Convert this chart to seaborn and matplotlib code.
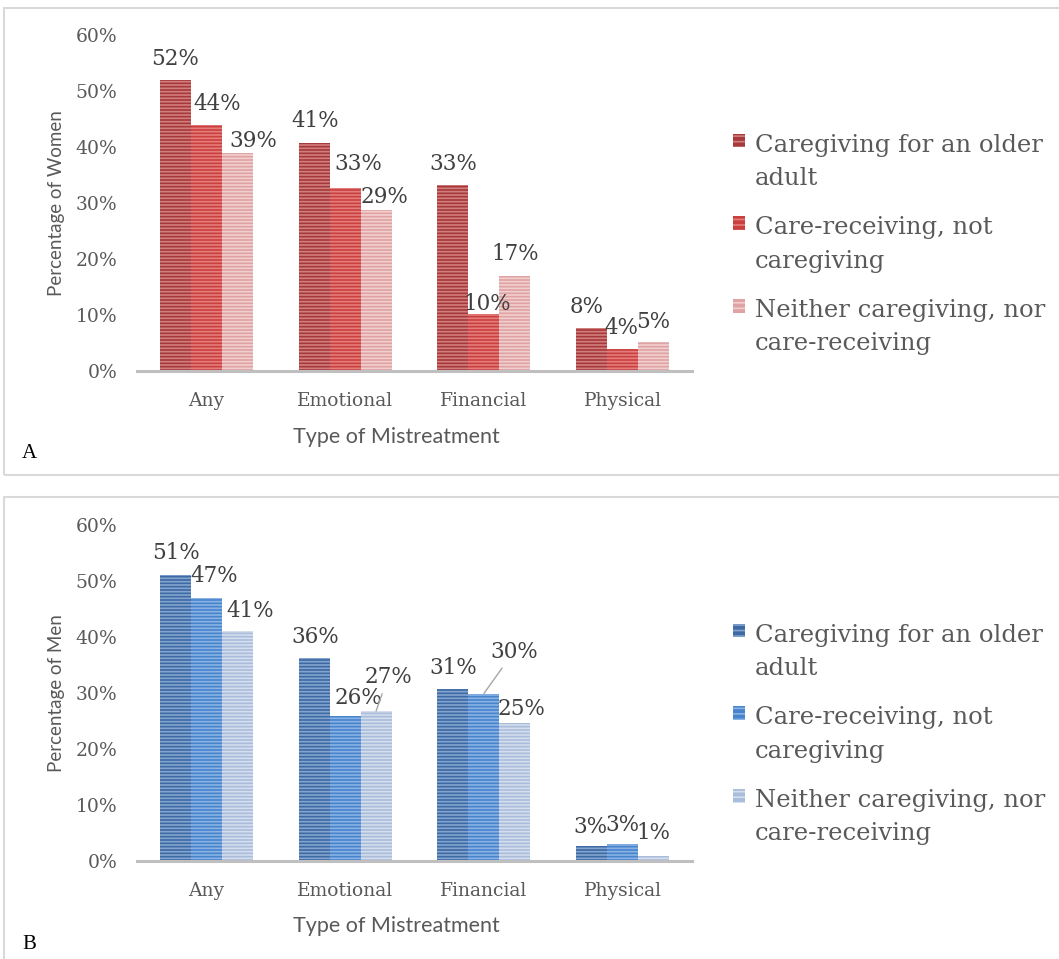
import pandas as pd
import seaborn as sns
import matplotlib.pyplot as plt
from matplotlib.patches import Patch, Rectangle

# Daten
categories = ["Any", "Emotional", "Financial", "Physical"]
groups = ["Caregiving for an older\nadult", "Care-receiving, not\ncaregiving",
          "Neither caregiving, nor\ncare-receiving"]

women_cg = [52.0, 40.7, 33.3, 7.6]
women_cr = [44.0, 32.7, 10.1, 4.0]
women_n = [39.0, 28.8, 17.0, 5.2]

men_cg = [51.1, 36.3, 30.7, 2.6]
men_cr = [47.0, 25.9, 29.9, 3.0]
men_n = [41.1, 26.8, 24.6, 0.9]

# label offsets (pixels) relative to bar top centre
women_off = [[(0, 15), (1, 16), (0, 15), (-5, 15)],
             [(11, 15), (13, 18), (3, 4), (-1, 15)],
             [(16, 6), (8, 7), (0, 16), (0, 14)]]
men_off = [[(1, 16), (1, 15), (0, 15), (-1, 13)],
           [(8, 16), (13, 12), (30, 36), (0, 13)],
           [(13, 14), (12, 28), (7, 8), (0, 17)]]
men_leader = [(1, 2), (2, 1)]  # (series, category)

women_dark = ["#a5393b", "#c9403f", "#e0a2a3"]
women_light = ["#d27e7e", "#e47d7b", "#f1cfcf"]
men_dark = ["#3d6aa3", "#4884cc", "#a9bddb"]
men_light = ["#84a4cf", "#88b3e4", "#d4deee"]

sns.set_theme(style="white")
plt.rcParams['hatch.linewidth'] = 1.2
SERIF = ['DejaVu Serif']
SANS = ['Lato', 'DejaVu Sans']
GREY = "#595959"
HATCH = "-----"


def make_df(a, b, c):
    rows = []
    for g, vals in zip(groups, [a, b, c]):
        for cat, v in zip(categories, vals):
            rows.append({"type": cat, "pct": v, "group": g})
    return pd.DataFrame(rows)


def draw_panel(ax, df, dark, light, offsets, ylabel, leaders=()):
    sns.barplot(data=df, x="type", y="pct", hue="group", palette=dark, width=0.67,
                saturation=1, ax=ax, legend=False, errorbar=None)
    for i, cont in enumerate(ax.containers):
        for j, bar in enumerate(cont):
            bar.set_edgecolor(light[i])
            bar.set_hatch(HATCH)
            bar.set_linewidth(0)
            v = bar.get_height()
            x = bar.get_x() + bar.get_width() / 2
            dx, dy = offsets[i][j]
            kw = {}
            if (i, j) in leaders:
                kw['arrowprops'] = dict(arrowstyle='-', color='#a6a6a6', lw=1,
                                        shrinkA=2, shrinkB=0)
            ax.annotate(f"{round(v)}%", xy=(x, v), xytext=(dx, dy),
                        textcoords='offset pixels', ha='center', va='baseline',
                        fontsize=15.5, family=SERIF, color="#404040", **kw)
    ax.set_ylim(0, 60)
    ax.set_yticks(range(0, 61, 10))
    ax.set_yticklabels([f"{t}%" for t in range(0, 61, 10)], family=SERIF,
                       fontsize=13.5, color=GREY)
    ax.set_xticks(range(len(categories)))
    ax.set_xticklabels(categories, family=SERIF, fontsize=13.5, color=GREY)
    ax.tick_params(axis='y', length=0, pad=14)
    ax.tick_params(axis='x', length=0, pad=15)
    ax.set_ylabel(ylabel, family=SANS, fontsize=13.5, color=GREY, labelpad=8)
    ax.set_xlabel("Type of Mistreatment", family=SANS, fontsize=15.5, color=GREY,
                  labelpad=12)
    ax.xaxis.label.set_x(0.467)
    for s in ['top', 'right', 'left']:
        ax.spines[s].set_visible(False)
    ax.spines['bottom'].set_color("#bfbfbf")
    ax.spines['bottom'].set_linewidth(2.2)
    handles = [Patch(facecolor=dark[k], edgecolor=light[k], hatch='---', linewidth=0)
               for k in range(3)]
    leg = ax.legend(handles, groups, loc='upper left', bbox_to_anchor=(1.052, 0.743),
                    frameon=False, borderpad=0, handlelength=0.5, handleheight=0.5,
                    handletextpad=0.4, labelspacing=1.08,
                    prop={'family': SERIF, 'size': 17.5})
    for t in leg.get_texts():
        t.set_color(GREY)
        t.set_linespacing(1.58)
    # put the square next to the first line like the original
    for col in leg._legend_handle_box.get_children():
        for item in col.get_children():
            item.align = 'top'


fig = plt.figure(figsize=(10.59, 9.59), dpi=100)

# panel frames
for y0, h in [(1 - 475 / 959, (475 - 8) / 959), (-0.05, (1 - 497 / 959) + 0.05)]:
    fig.patches.append(Rectangle((4 / 1059, y0), 1.1, h, transform=fig.transFigure,
                                 fill=False, edgecolor="#d9d9d9", linewidth=1.5,
                                 clip_on=False))

axA = fig.add_axes([137 / 1059, 1 - 371 / 959, 555 / 1059, 336 / 959])
axB = fig.add_axes([137 / 1059, 1 - 861 / 959, 555 / 1059, 336 / 959])

draw_panel(axA, make_df(women_cg, women_cr, women_n), women_dark, women_light,
           women_off, "Percentage of Women")
draw_panel(axB, make_df(men_cg, men_cr, men_n), men_dark, men_light,
           men_off, "Percentage of Men", leaders=men_leader)

fig.text(22 / 1059, 1 - 458 / 959, "A", family=['Liberation Serif'], fontsize=15,
         color="black")
fig.text(22 / 1059, 1 - 949 / 959, "B", family=['Liberation Serif'], fontsize=15,
         color="black")

fig.savefig("out.png", dpi=100)
